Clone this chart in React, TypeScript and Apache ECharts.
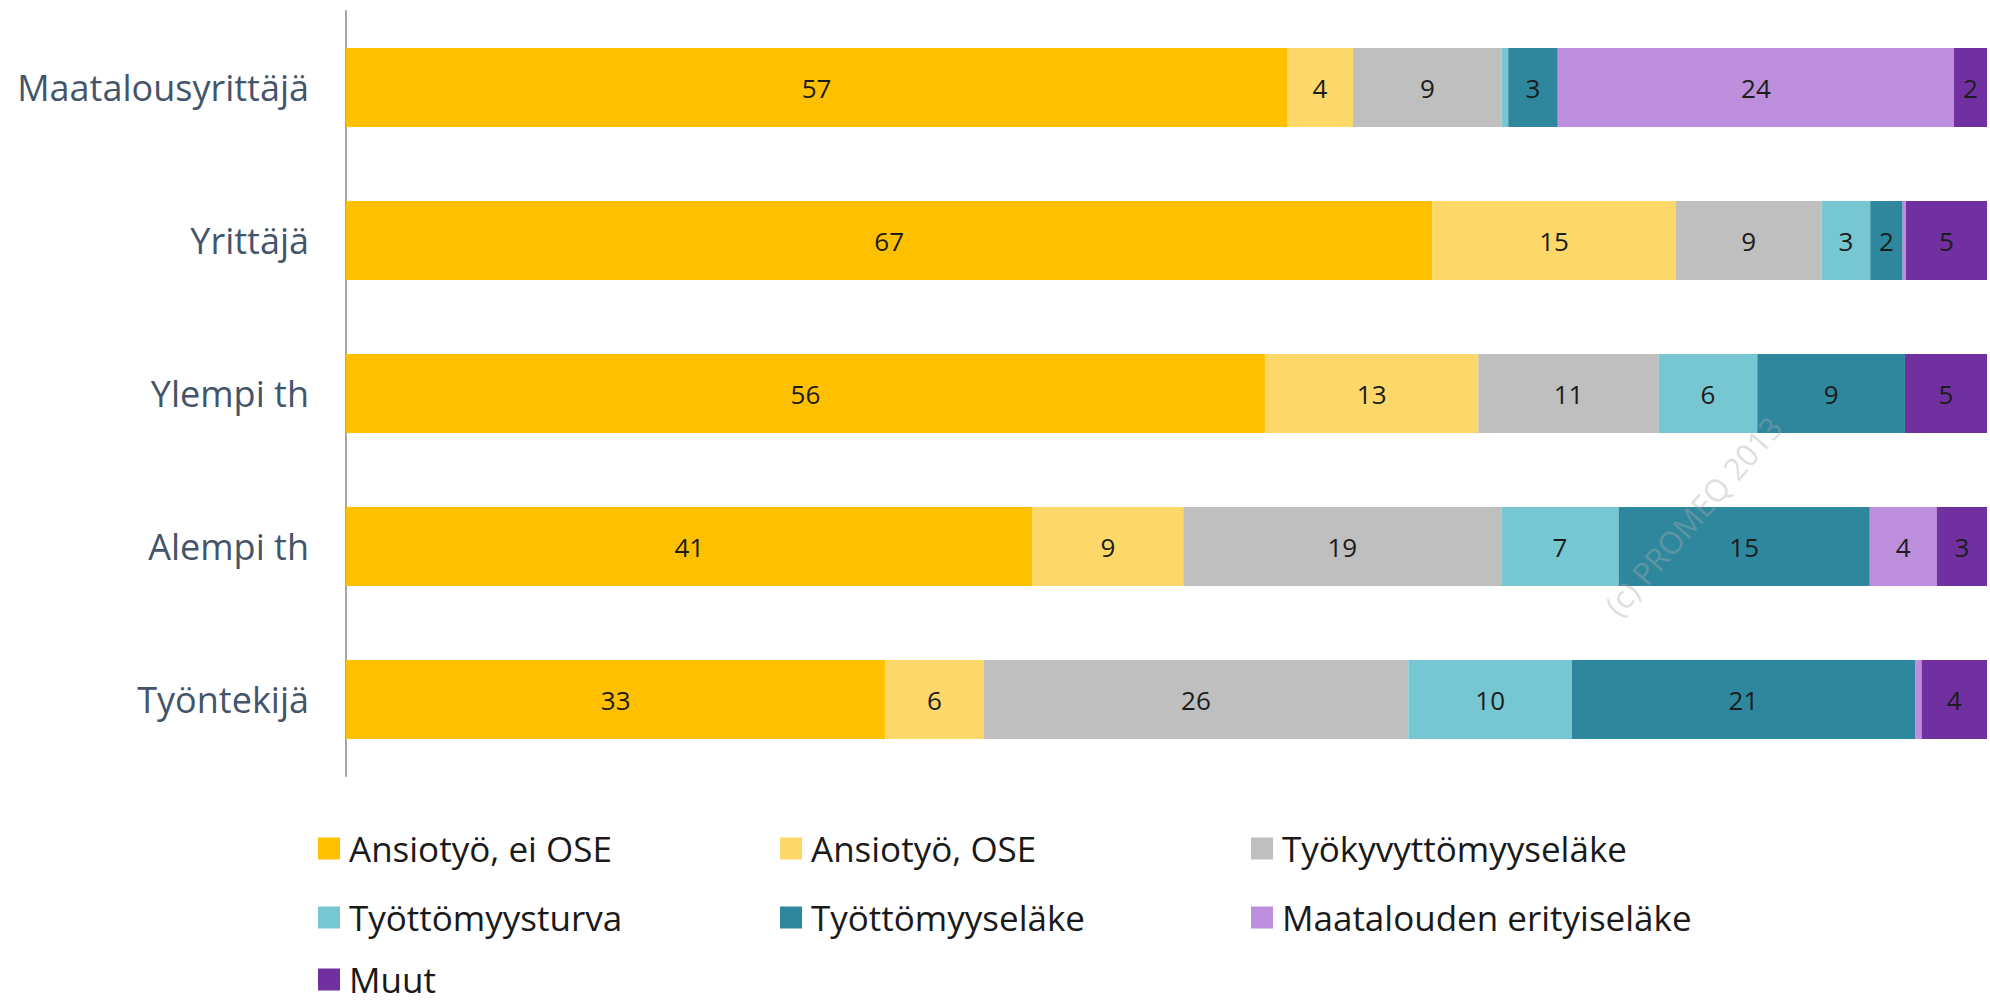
import React, { useEffect, useRef } from "react";
import * as echarts from "echarts";

const categories = ["Maatalousyrittäjä", "Yrittäjä", "Ylempi th", "Alempi th", "Työntekijä"];
const seriesNames = [
  "Ansiotyö, ei OSE",
  "Ansiotyö, OSE",
  "Työkyvyttömyyseläke",
  "Työttömyysturva",
  "Työttömyyseläke",
  "Maatalouden erityiseläke",
  "Muut",
];
const ansiotyoEiOse = [57, 67, 56, 41, 33];
const ansiotyoOse = [4, 15, 13, 9, 6];
const tyokyvyttomyyselake = [9, 9, 11, 19, 26];
const tyottomyysturva = [0.4, 3, 6, 7, 10];
const tyottomyyselake = [3, 2, 9, 15, 21];
const maatalousErityiselake = [24, 0.2, 0, 4, 0.4];
const muut = [2, 5, 5, 3, 4];
const colors = ["#FFC000", "#FCD86A", "#BFBFBF", "#77C7D3", "#2F879E", "#BC8EDC", "#7030A0"];

const allSeries = [
  ansiotyoEiOse,
  ansiotyoOse,
  tyokyvyttomyyselake,
  tyottomyysturva,
  tyottomyyselake,
  maatalousErityiselake,
  muut,
];

// legend grid: three columns, filled row by row
const legendCols = [318, 780, 1251];
const legendRows = [831, 900, 962];

const FONT = "Open Sans";

export default function App() {
  const ref = useRef<HTMLDivElement>(null);
  useEffect(() => {
    if (!ref.current) return;
    const chart = echarts.init(ref.current, undefined, { renderer: "svg" });
    const totals = categories.map((_, i) => allSeries.reduce((s, arr) => s + arr[i], 0));
    const series = allSeries.map((arr, si) => ({
      name: seriesNames[si],
      type: "bar",
      stack: "total",
      barWidth: "51.6%",
      itemStyle: { color: colors[si] },
      label: {
        show: true,
        position: "inside",
        color: "#1c1c1c",
        fontFamily: FONT,
        fontSize: 26,
        formatter: (p: any) => (p.data.raw >= 1 ? String(Math.round(p.data.raw)) : ""),
      },
      data: arr.map((v, i) => ({ value: (v / totals[i]) * 100, raw: v })),
    }));
    const legends = seriesNames.map((name, i) => ({
      orient: "horizontal",
      left: legendCols[i % 3],
      top: legendRows[Math.floor(i / 3)],
      padding: 0,
      itemWidth: 22,
      itemHeight: 22,
      icon: "rect",
      selectedMode: false,
      data: [name],
      textStyle: {
        fontFamily: FONT,
        fontSize: 35,
        color: "#1a1a1a",
        lineHeight: 22,
        padding: [0, 0, 0, 4],
      },
    }));
    chart.setOption({
      animation: false,
      color: colors,
      grid: { left: 346, right: 3, top: 11, bottom: 228, containLabel: false },
      xAxis: { type: "value", min: 0, max: 100, show: false },
      yAxis: {
        type: "category",
        data: categories,
        inverse: true,
        axisLine: { show: true, lineStyle: { color: "#A6A6A6", width: 2 } },
        axisTick: { show: false },
        axisLabel: { fontFamily: FONT, fontSize: 36, color: "#44546A", margin: 37 },
      },
      legend: legends,
      graphic: [
        {
          type: "text",
          x: 1693,
          y: 516,
          rotation: (49 * Math.PI) / 180,
          z: 100,
          silent: true,
          style: {
            text: "(c) PROMEQ 2013",
            fontFamily: FONT,
            fontSize: 31,
            fill: "rgba(170,170,170,0.4)",
            align: "center",
            verticalAlign: "middle",
          },
        },
      ],
      series,
    });
    return () => chart.dispose();
  }, []);
  return (
    <div
      ref={ref}
      style={{ position: "fixed", left: 0, top: 0, width: 1990, height: 1004, background: "#fff" }}
    />
  );
}
